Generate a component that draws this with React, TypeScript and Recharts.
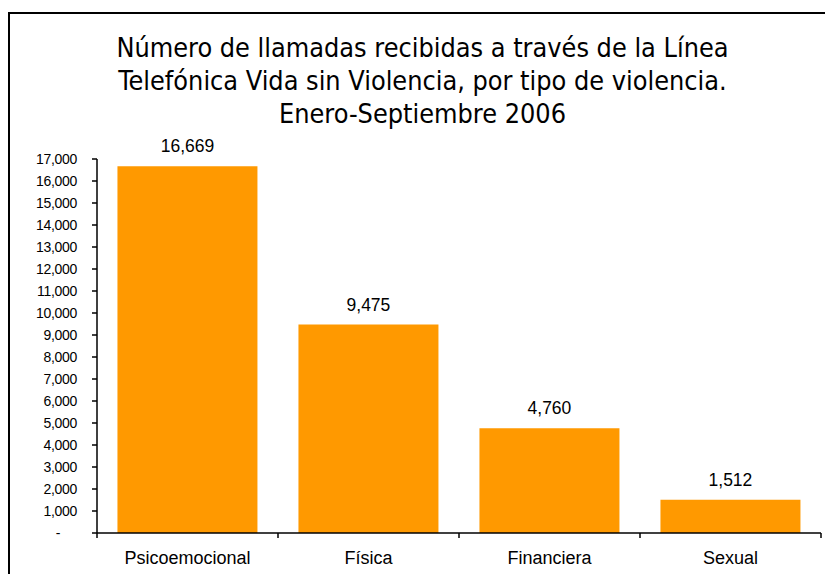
import { BarChart, Bar, XAxis, YAxis, LabelList } from "recharts"

const categorias = ["Psicoemocional", "Física", "Financiera", "Sexual"]
const llamadas = [16669, 9475, 4760, 1512]
const yTicks = [0, 1000, 2000, 3000, 4000, 5000, 6000, 7000, 8000, 9000, 10000, 11000, 12000, 13000, 14000, 15000, 16000, 17000]
const titulo = [
  "Número de llamadas recibidas a través de la Línea",
  "Telefónica Vida sin Violencia, por tipo de violencia.",
  "Enero-Septiembre 2006",
]

const NARANJA = "#FF9900"
const ARIAL = "'Liberation Sans', Arial, sans-serif"

const data = categorias.map((c, i) => ({ tipo: c, llamadas: llamadas[i] }))

const fmt = (v: number) => v.toLocaleString("en-US")

function YTick(props: any) {
  const { x, y, payload } = props
  const cero = payload.value === 0
  return (
    <text
      x={cero ? x - 30 : x - 13}
      y={y}
      dy="0.35em"
      textAnchor="end"
      fontSize={14}
      letterSpacing={-0.3}
      fontFamily={ARIAL}
      fill="#000"
    >
      {cero ? "-" : fmt(payload.value)}
    </text>
  )
}

// tick de categoría: texto centrado + marcas en los límites de cada banda
function XTick(props: any) {
  const { x, y, payload, index, visibleTicksCount } = props
  const half = payload?.offset ?? 0
  const ultimo = index === (visibleTicksCount ?? categorias.length) - 1
  return (
    <g>
      <line x1={x - half} x2={x - half} y1={y} y2={y + 5} stroke="#000" strokeWidth={1.5} />
      {ultimo && <line x1={x + half} x2={x + half} y1={y} y2={y + 5} stroke="#000" strokeWidth={1.5} />}
      <text x={x} y={y + 31} textAnchor="middle" fontSize={18} fontFamily={ARIAL} fill="#000">
        {payload.value}
      </text>
    </g>
  )
}

export default function App() {
  return (
    <div style={{ position: "absolute", left: 0, top: 0, width: 825, height: 574, overflow: "hidden", background: "#fff" }}>
      <div style={{
        position: "absolute", left: 8, top: 12, width: 840, height: 600,
        border: "2px solid #000", boxSizing: "border-box",
      }} />
      <div style={{
        position: "absolute", left: 0, top: 31, width: 845, textAlign: "center",
        fontFamily: "'DejaVu Sans Condensed', 'DejaVu Sans', sans-serif", fontSize: 26.8, lineHeight: "33px", color: "#000",
      }}>
        {titulo.map((t) => <div key={t}>{t}</div>)}
      </div>
      <div style={{ position: "absolute", left: 0, top: 0 }}>
        <BarChart width={825} height={574} data={data} margin={{ top: 159, right: 4, bottom: 0, left: 0 }} barCategoryGap="11.3%">
          <XAxis
            dataKey="tipo"
            height={41}
            axisLine={{ stroke: "#000", strokeWidth: 1.5 }}
            tickLine={false}
            tickSize={0}
            tickMargin={0}
            tick={<XTick />}
            interval={0}
          />
          <YAxis
            width={97}
            domain={[0, 17000]}
            ticks={yTicks}
            interval={0}
            tick={<YTick />}
            tickSize={5}
            axisLine={{ stroke: "#000", strokeWidth: 1.5 }}
            tickLine={{ stroke: "#000", strokeWidth: 1.5 }}
          />
          <Bar dataKey="llamadas" fill={NARANJA} isAnimationActive={false}>
            <LabelList
              dataKey="llamadas"
              position="top"
              offset={14}
              formatter={(v: any) => fmt(Number(v))}
              style={{ fontSize: 17.5, fill: "#000", fontFamily: ARIAL }}
            />
          </Bar>
        </BarChart>
      </div>
    </div>
  )
}
